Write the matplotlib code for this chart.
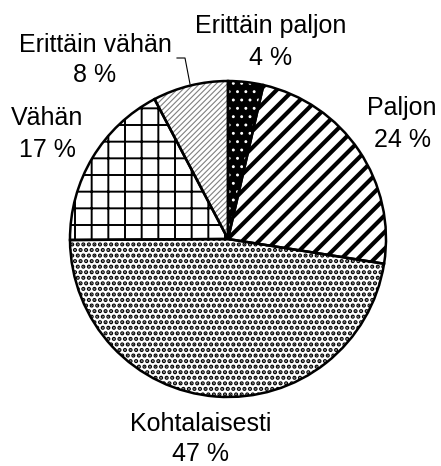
import matplotlib
matplotlib.use('Agg')
import matplotlib.pyplot as plt

plt.rcParams['font.family'] = ['Liberation Sans', 'DejaVu Sans']

# data
labels = ['Erittäin paljon', 'Paljon', 'Kohtalaisesti', 'Vähän', 'Erittäin vähän']
values = [3.6, 23.9, 47.4, 17.4, 7.7]
shown_pct = [4, 24, 47, 17, 8]

hatches = ['..', '//', '...', '+', '//////']
faces = ['black', 'white', 'white', 'white', 'white']
hatch_cols = ['white', 'black', 'black', 'black', '#808080']
hatch_lws = [0.9, 3.0, 2.1, 1.4, 0.8]

W, H = 441, 466
fig = plt.figure(figsize=(W / 100, H / 100), dpi=100)
ax = fig.add_axes([0, 0, 1, 1])

wedges, _ = ax.pie(values, startangle=90, counterclock=False,
                   center=(228, H - 239), radius=158,
                   wedgeprops=dict(linewidth=0))

for w, h, fc, hc, hlw in zip(wedges, hatches, faces, hatch_cols, hatch_lws):
    w.set_facecolor(fc)
    w.set_edgecolor(hc)   # hatch colour follows edge colour here
    w.set_linewidth(0)
    w.set_hatch(h)
    w.set_hatch_linewidth(hlw)

# outlines on top
ax.pie(values, startangle=90, counterclock=False,
       center=(228, H - 239), radius=158,
       wedgeprops=dict(linewidth=1.8, edgecolor='black', fill=False))

# label positions (pixel coords, baseline of each line)
pos = [(271, 33, 65), (402, 115, 147), (201, 431, 461),
       (47, 125, 157), (95, 52, 82)]
for lab, p, (x, y1, y2) in zip(labels, shown_pct, pos):
    ax.text(x, H - y1, lab, ha='center', va='baseline', fontsize=18)
    ax.text(x, H - y2, f'{p} %', ha='center', va='baseline', fontsize=18)

# leader line for "Erittäin vähän"
ax.plot([177, 185, 190], [H - 58, H - 58, H - 84], color='black', lw=0.8)

ax.set_xlim(0, W)
ax.set_ylim(0, H)
ax.axis('off')

fig.savefig('out.png', dpi=100)
